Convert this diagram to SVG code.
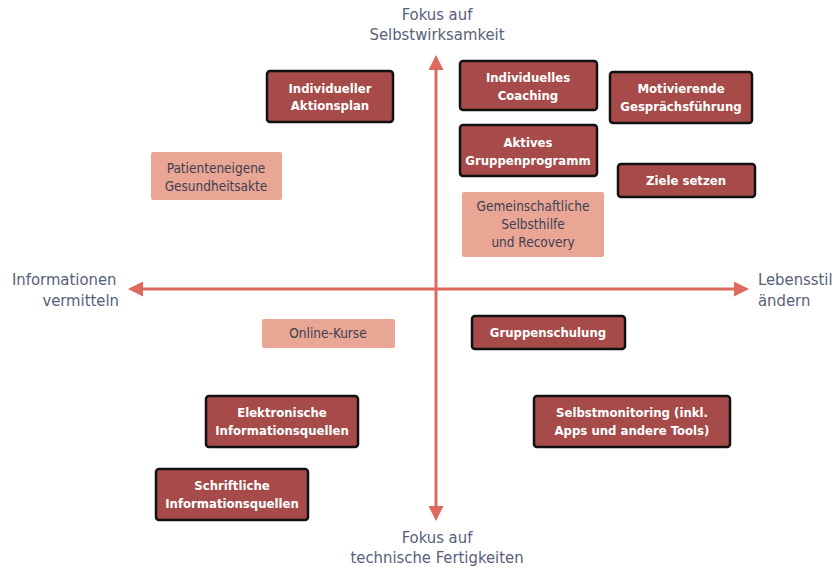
<svg xmlns="http://www.w3.org/2000/svg" width="839" height="570" viewBox="0 0 839 570">
  <style>
    text { font-family: "Liberation Sans Narrow", "DejaVu Sans Condensed", "Liberation Sans", sans-serif; text-anchor: middle; }
    .axis-label { font-size: 16.5px; fill: #58607a; }
    .dark rect { fill: #A64B4A; stroke: #111; stroke-width: 2.5; }
    .dark text { fill: #fff; font-size: 13px; font-weight: bold; }
    .light rect { fill: #E9A695; }
    .light text { fill: #3e4152; font-size: 13.5px; }
    .axis { stroke: #DE6A5E; stroke-width: 3; fill: none; }
  </style>
  <defs>
    <marker id="arrow" viewBox="0 0 10 10" refX="8" refY="5" markerWidth="5" markerHeight="5" orient="auto-start-reverse" markerUnits="strokeWidth">
      <path d="M0,0 L10,5 L0,10 z" fill="#DE6A5E"/>
    </marker>
  </defs>

  <!-- axes -->
  <g id="connectors">
    <line class="axis" x1="436" y1="58" x2="436" y2="518" marker-start="url(#arrow)" marker-end="url(#arrow)"/>
    <line class="axis" x1="131" y1="289" x2="746" y2="289" marker-start="url(#arrow)" marker-end="url(#arrow)"/>
  </g>

  <!-- axis labels -->
  <g id="label-top">
    <text class="axis-label" x="437" y="20">Fokus auf</text>
    <text class="axis-label" x="437" y="40">Selbstwirksamkeit</text>
  </g>
  <g id="label-bottom">
    <text class="axis-label" x="437" y="543">Fokus auf</text>
    <text class="axis-label" x="437" y="563">technische Fertigkeiten</text>
  </g>
  <g id="label-left">
    <text class="axis-label" x="12" y="285" style="text-anchor:start">Informationen</text>
    <text class="axis-label" x="119" y="306" style="text-anchor:end">vermitteln</text>
  </g>
  <g id="label-right">
    <text class="axis-label" x="758" y="285" style="text-anchor:start">Lebensstil</text>
    <text class="axis-label" x="758" y="306" style="text-anchor:start">ändern</text>
  </g>

  <!-- dark nodes -->
  <g id="individueller-aktionsplan" class="dark">
    <rect x="267" y="71" width="126" height="51" rx="3"/>
    <text x="330" y="93">Individueller</text>
    <text x="330" y="110">Aktionsplan</text>
  </g>
  <g id="individuelles-coaching" class="dark">
    <rect x="460" y="61" width="137" height="49" rx="3"/>
    <text x="528" y="82">Individuelles</text>
    <text x="528" y="100">Coaching</text>
  </g>
  <g id="motivierende-gespraechsfuehrung" class="dark">
    <rect x="610" y="72" width="142" height="51" rx="3"/>
    <text x="681" y="93">Motivierende</text>
    <text x="681" y="111">Gesprächsführung</text>
  </g>
  <g id="aktives-gruppenprogramm" class="dark">
    <rect x="460" y="125" width="137" height="51" rx="3"/>
    <text x="528" y="147">Aktives</text>
    <text x="528" y="165">Gruppenprogramm</text>
  </g>
  <g id="ziele-setzen" class="dark">
    <rect x="618" y="164" width="137" height="33" rx="3"/>
    <text x="686" y="185">Ziele setzen</text>
  </g>
  <g id="gruppenschulung" class="dark">
    <rect x="472" y="316" width="153" height="33" rx="3"/>
    <text x="548" y="337">Gruppenschulung</text>
  </g>
  <g id="elektronische-informationsquellen" class="dark">
    <rect x="206" y="396" width="152" height="51" rx="3"/>
    <text x="282" y="417">Elektronische</text>
    <text x="282" y="435">Informationsquellen</text>
  </g>
  <g id="selbstmonitoring" class="dark">
    <rect x="534" y="396" width="196" height="51" rx="3"/>
    <text x="632" y="417">Selbstmonitoring (inkl.</text>
    <text x="632" y="435">Apps und andere Tools)</text>
  </g>
  <g id="schriftliche-informationsquellen" class="dark">
    <rect x="156" y="469" width="152" height="51" rx="3"/>
    <text x="232" y="490">Schriftliche</text>
    <text x="232" y="508">Informationsquellen</text>
  </g>

  <!-- light nodes -->
  <g id="patienteneigene-gesundheitsakte" class="light">
    <rect x="151" y="152" width="131" height="48" rx="2"/>
    <text x="216" y="173">Patienteneigene</text>
    <text x="216" y="191">Gesundheitsakte</text>
  </g>
  <g id="gemeinschaftliche-selbsthilfe" class="light">
    <rect x="462" y="192" width="142" height="65" rx="2"/>
    <text x="533" y="211">Gemeinschaftliche</text>
    <text x="533" y="229">Selbsthilfe</text>
    <text x="533" y="247">und Recovery</text>
  </g>
  <g id="online-kurse" class="light">
    <rect x="262" y="319" width="133" height="29" rx="2"/>
    <text x="328" y="338">Online-Kurse</text>
  </g>
</svg>
